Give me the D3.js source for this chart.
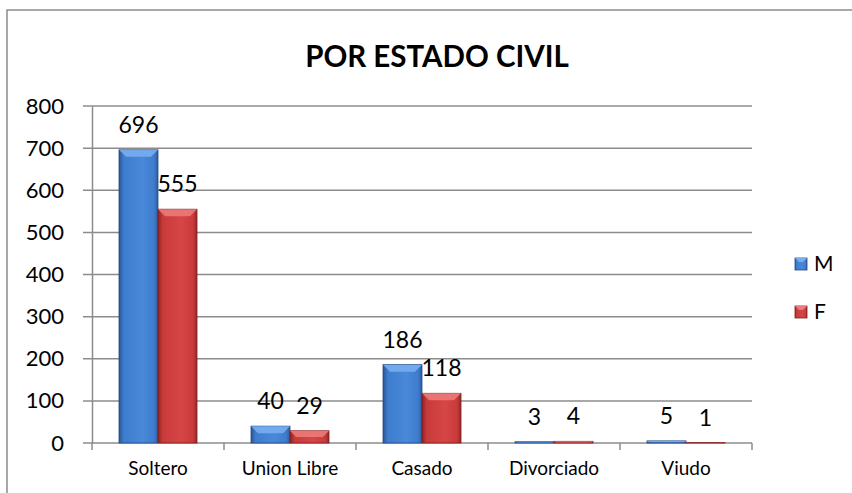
<!DOCTYPE html>
<html>
<head>
<meta charset="utf-8">
<script src="https://cdn.jsdelivr.net/npm/d3@7/dist/d3.min.js"></script>
<style>
  body { margin: 0; background: #fff; }
  svg { display: block; font-family: Lato, "Open Sans", sans-serif; }
</style>
</head>
<body>
<svg id="chart"></svg>
<script>
// data
let categories = ['Soltero', 'Union Libre', 'Casado', 'Divorciado', 'Viudo'];
let valuesM = [696, 40, 186, 3, 5];
let valuesF = [555, 29, 118, 4, 1];
let seriesNames = ['M', 'F'];
let yTicks = [0, 100, 200, 300, 400, 500, 600, 700, 800];

function getConfig(){
    let width = 852;
    let height = 493;
    let margin = { top: 106, bottom: 50, left: 92, right: 100 };
    let bodyHeight = height - margin.top - margin.bottom;
    let bodyWidth = width - margin.left - margin.right;
    let container = d3.select('#chart')
        .attr('width', width)
        .attr('height', height);
    return { width, height, margin, bodyHeight, bodyWidth, container };
}

function getScales(config){
    let xScale = d3.scaleBand()
        .domain(categories)
        .range([0, config.bodyWidth])
        .paddingInner(0)
        .paddingOuter(0);
    let inner = d3.scaleBand()
        .domain(seriesNames)
        .range([27, xScale.bandwidth() - 27]);
    let yScale = d3.scaleLinear()
        .domain([0, 800])
        .range([config.bodyHeight, 0]);
    return { xScale, inner, yScale };
}

function addGradients(container){
    let defs = container.append('defs');
    let colors = {
        M: ['#2b5590', '#3e7cce', '#4a88da', '#2e5c9e'],
        F: ['#8f2323', '#c93a3a', '#d64646', '#962828']
    };
    Object.keys(colors).forEach(k => {
        let g = defs.append('linearGradient').attr('id', 'grad' + k)
            .attr('x1', 0).attr('x2', 1).attr('y1', 0).attr('y2', 0);
        let c = colors[k];
        g.append('stop').attr('offset', '0%').attr('stop-color', c[0]);
        g.append('stop').attr('offset', '12%').attr('stop-color', c[1]);
        g.append('stop').attr('offset', '60%').attr('stop-color', c[2]);
        g.append('stop').attr('offset', '90%').attr('stop-color', c[1]);
        g.append('stop').attr('offset', '100%').attr('stop-color', c[3]);
    });
    return { M: '#78aef0', F: '#ec7a7a' };
}

function drawFrame(config){
    let { container, width, height } = config;
    container.append('rect')
        .attr('x', 7).attr('y', 10)
        .attr('width', width).attr('height', height)
        .attr('fill', 'none')
        .attr('stroke', '#8c8c8c')
        .attr('stroke-width', 1.5);
    container.append('text')
        .attr('x', 437).attr('y', 67)
        .attr('text-anchor', 'middle')
        .attr('font-weight', 'bold')
        .attr('font-size', 29.5)
        .text('POR ESTADO CIVIL');
}

function drawAxes(config, scales){
    let { container, margin, bodyHeight, bodyWidth } = config;
    let { xScale, yScale } = scales;

    let grid = container.append('g')
        .attr('transform', `translate(${margin.left},${margin.top})`);
    grid.selectAll('line.grid')
        .data(yTicks)
        .enter().append('line')
        .attr('x1', -9).attr('x2', bodyWidth)
        .attr('y1', d => yScale(d)).attr('y2', d => yScale(d))
        .attr('stroke', '#8c8c8c').attr('stroke-width', 1.5);

    let axisY = d3.axisLeft(yScale).tickValues(yTicks).tickSize(0).tickPadding(28);
    let gy = container.append('g')
        .attr('transform', `translate(${margin.left},${margin.top})`)
        .call(axisY);
    gy.select('.domain').attr('stroke', '#8c8c8c').attr('stroke-width', 1.5);
    gy.selectAll('text').attr('font-size', 22).attr('fill', '#000')
        .attr('font-family', 'Lato, sans-serif');

    let axisX = d3.axisBottom(xScale).tickSize(0).tickPadding(19);
    let gx = container.append('g')
        .attr('transform', `translate(${margin.left},${margin.top + bodyHeight})`)
        .call(axisX);
    gx.select('.domain').remove();
    gx.selectAll('text').attr('font-size', 19).attr('fill', '#000')
        .attr('font-family', 'Lato, sans-serif');
    // category separators
    let seps = categories.map(c => xScale(c)).concat([bodyWidth]);
    gx.selectAll('line.sep')
        .data(seps)
        .enter().append('line')
        .attr('x1', d => d).attr('x2', d => d)
        .attr('y1', 0).attr('y2', 7)
        .attr('stroke', '#8c8c8c').attr('stroke-width', 1.5);
}

function drawBars(config, scales, bevel){
    let { container, margin } = config;
    let { xScale, inner, yScale } = scales;
    let body = container.append('g')
        .attr('transform', `translate(${margin.left},${margin.top})`);
    let rows = [];
    categories.forEach((c, i) => {
        rows.push({ cat: c, s: 'M', v: valuesM[i] });
        rows.push({ cat: c, s: 'F', v: valuesF[i] });
    });
    let bw = inner.bandwidth();
    let g = body.selectAll('.bar').data(rows).enter().append('g');
    g.append('rect')
        .attr('x', d => xScale(d.cat) + inner(d.s))
        .attr('y', d => yScale(d.v))
        .attr('width', bw)
        .attr('height', d => yScale(0) - yScale(d.v))
        .attr('fill', d => `url(#grad${d.s})`)
        .attr('stroke', d => d.s === 'M' ? '#24497f' : '#7e1f1f')
        .attr('stroke-width', 0.8);
    // top bevel
    g.append('path')
        .attr('d', d => {
            let x0 = xScale(d.cat) + inner(d.s);
            let y0 = yScale(d.v);
            let h = Math.min(7, (yScale(0) - y0) / 2);
            return `M${x0},${y0}L${x0 + bw},${y0}L${x0 + bw - h},${y0 + h}L${x0 + h},${y0 + h}Z`;
        })
        .attr('fill', d => bevel[d.s])
        .attr('opacity', 0.9);

    body.selectAll('.label').data(rows).enter().append('text')
        .attr('x', d => xScale(d.cat) + inner(d.s) + bw / 2)
        .attr('y', d => yScale(d.v) - 17)
        .attr('text-anchor', 'middle')
        .attr('font-size', 23)
        .text(d => d.v);
}

function drawLegend(config, bevel){
    let { container } = config;
    let items = container.selectAll('.legend').data(seriesNames).enter().append('g')
        .attr('transform', (d, i) => `translate(795,${258 + i * 48})`);
    items.append('rect')
        .attr('width', 12).attr('height', 12)
        .attr('fill', d => `url(#grad${d})`)
        .attr('stroke', d => d === 'M' ? '#24497f' : '#7e1f1f')
        .attr('stroke-width', 0.8);
    items.append('path')
        .attr('d', 'M0,0L12,0L8,4L4,4Z')
        .attr('fill', d => bevel[d]);
    items.append('text')
        .attr('x', 19).attr('y', 13)
        .attr('font-size', 21)
        .text(d => d);
}

let config = getConfig();
let scales = getScales(config);
let bevel = addGradients(config.container);
drawFrame(config);
drawAxes(config, scales);
drawBars(config, scales, bevel);
drawLegend(config, bevel);
</script>
</body>
</html>
